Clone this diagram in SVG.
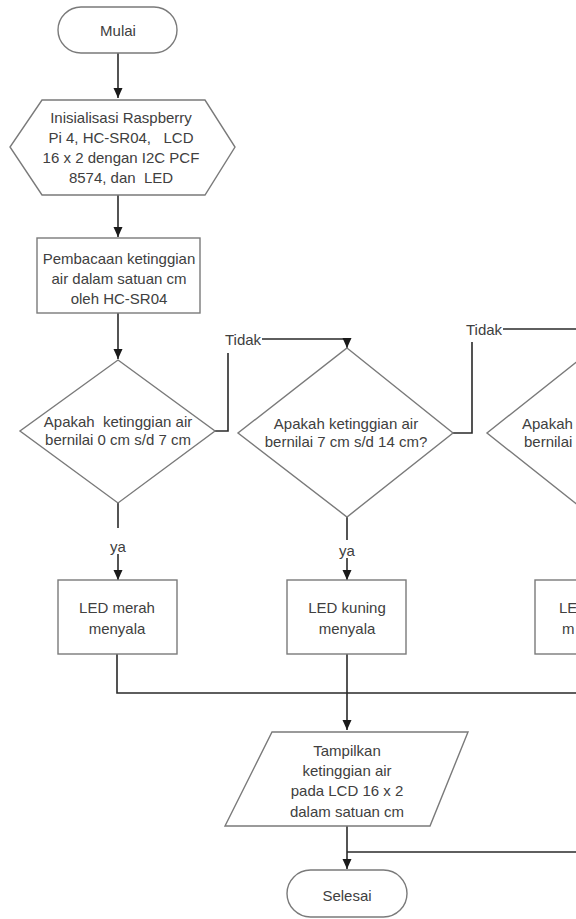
<svg xmlns="http://www.w3.org/2000/svg" width="576" height="919" viewBox="0 0 576 919" xml:space="preserve">
<defs>
<style>
.s{fill:#fff;stroke:#7a7a7a;stroke-width:1.4}
.c{fill:none;stroke:#2a2a2a;stroke-width:1.6}
text{font-family:"Liberation Sans",Arial,sans-serif;font-size:15px;fill:#404040;text-anchor:middle;dominant-baseline:central;white-space:pre}
.l{text-anchor:start}
</style>
<marker id="ah" markerUnits="userSpaceOnUse" markerWidth="10" markerHeight="10" viewBox="0 0 10 10" refX="10" refY="5" orient="auto">
<path d="M0,0.5 L10,5 L0,9.5 Z" fill="#1a1a1a"/>
</marker>
</defs>
<rect width="576" height="919" fill="#fff"/>
<g id="connectors">
<path class="c" d="M118,53 V98" marker-end="url(#ah)"/>
<path class="c" d="M118,195 V237" marker-end="url(#ah)"/>
<path class="c" d="M118,313 V359" marker-end="url(#ah)"/>
<path class="c" d="M215,431 H228 V353"/>
<path class="c" d="M262,339 H347 V348" marker-end="url(#ah)"/>
<path class="c" d="M118,503 V528"/>
<path class="c" d="M118,554 V580" marker-end="url(#ah)"/>
<path class="c" d="M453,433 H472 V342"/>
<path class="c" d="M503,329 H576"/>
<path class="c" d="M347,517 V540"/>
<path class="c" d="M347,558 V580" marker-end="url(#ah)"/>
<path class="c" d="M117,654 V693 H576"/>
<path class="c" d="M347,654 V730" marker-end="url(#ah)"/>
<path class="c" d="M347,826 V869" marker-end="url(#ah)"/>
<path class="c" d="M576,852 H347"/>
<text x="243" y="339">Tidak</text>
<text x="484" y="329">Tidak</text>
<text x="118" y="546">ya</text>
<text x="347" y="550">ya</text>
</g>
<g id="mulai">
<rect class="s" x="58" y="7" width="119" height="46" rx="23"/>
<text x="118" y="30">Mulai</text>
</g>
<g id="inisialisasi">
<polygon class="s" points="42,100 205,100 235,147 205,195 42,195 10,147"/>
<text x="121" y="117">Inisialisasi Raspberry</text>
<text x="121" y="137">Pi 4, HC-SR04,   LCD</text>
<text x="121" y="157">16 x 2 dengan I2C PCF</text>
<text x="121" y="177">8574, dan  LED</text>
</g>
<g id="pembacaan">
<rect class="s" x="37" y="238" width="163" height="75"/>
<text x="119" y="258">Pembacaan ketinggian</text>
<text x="119" y="278">air dalam satuan cm</text>
<text x="119" y="298">oleh HC-SR04</text>
</g>
<g id="cek1">
<polygon class="s" points="118,360 215,431 118,503 20,431"/>
<text x="118" y="421">Apakah  ketinggian air</text>
<text x="118" y="439">bernilai 0 cm s/d 7 cm</text>
</g>
<g id="cek2">
<polygon class="s" points="347,348 453,433 347,517 238,433"/>
<text x="346" y="423">Apakah ketinggian air</text>
<text x="346" y="441">bernilai 7 cm s/d 14 cm?</text>
</g>
<g id="cek3">
<polygon class="s" points="594,348 700,433 594,518 487,433"/>
<text class="l" x="522" y="423">Apakah</text>
<text class="l" x="524" y="441">bernilai</text>
</g>
<g id="merah">
<rect class="s" x="58" y="580" width="119" height="74"/>
<text x="117" y="607">LED merah</text>
<text x="117" y="628">menyala</text>
</g>
<g id="kuning">
<rect class="s" x="287" y="580" width="119" height="74"/>
<text x="347" y="607">LED kuning</text>
<text x="347" y="628">menyala</text>
</g>
<g id="hijau">
<rect class="s" x="535" y="580" width="119" height="74"/>
<text class="l" x="559" y="607">LE</text>
<text class="l" x="562" y="628">m</text>
</g>
<g id="tampilkan">
<polygon class="s" points="272,732 468,732 430,826 225,826"/>
<text x="347" y="750">Tampilkan</text>
<text x="347" y="770">ketinggian air</text>
<text x="347" y="790">pada LCD 16 x 2</text>
<text x="347" y="811">dalam satuan cm</text>
</g>
<g id="selesai">
<rect class="s" x="287" y="870" width="120" height="47" rx="23.5"/>
<text x="347" y="895">Selesai</text>
</g>
</svg>
